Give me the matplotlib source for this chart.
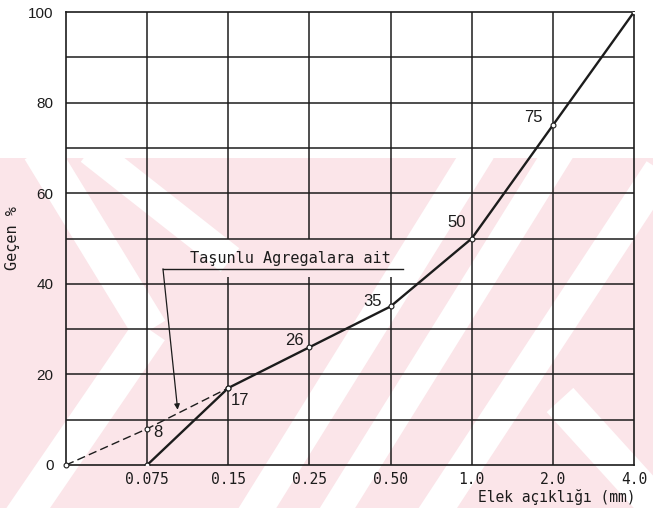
import numpy as np
import matplotlib.pyplot as plt
from matplotlib.patches import Polygon, Rectangle

# sieve sizes (equally spaced on the chart) and passing percentages
sieve_labels = ['', '0.075', '0.15', '0.25', '0.50', '1.0', '2.0', '4.0']
sand_pos = [1, 2, 3, 4, 5, 6, 7]
sand_passing = [0, 17, 26, 35, 50, 75, 100]
stone_pos = [0, 1, 2]
stone_passing = [0, 8, 17]
point_labels = ['8', '17', '26', '35', '50', '75']
label_xy = [(1.13, 7.1), (2.14, 14.3), (2.81, 27.4), (3.78, 36.2), (4.81, 53.6), (5.76, 76.8)]

W, H = 653, 508
ink = '#1c1c1c'
mono = 'DejaVu Sans Mono'
sans = 'Liberation Sans'

fig = plt.figure(figsize=(W / 100, H / 100), dpi=100)


def px(x, y):
    return (x / W, 1 - y / H)


def stripe(p1, p2, w, color='white'):
    p1 = np.array(p1, float)
    p2 = np.array(p2, float)
    d = p2 - p1
    n = np.array([-d[1], d[0]]) / np.hypot(*d) * w / 2
    pts = [p1 + n, p2 + n, p2 - n, p1 - n]
    fig.patches.append(Polygon([px(*p) for p in pts], closed=True, transform=fig.transFigure,
                               facecolor=color, edgecolor='none', zorder=-2))


# faint pink watermark from the scan
fig.patches.append(Rectangle(px(0, H), 1, (H - 158) / H, transform=fig.transFigure,
                             facecolor='#fbe5e9', edgecolor='none', zorder=-3))
stripe((40, 150), (150, 330), 36)
stripe((90, 150), (230, 260), 30)
stripe((150, 330), (20, 520), 36)
stripe((660, 170), (430, 520), 32)
stripe((560, 150), (330, 520), 30)
stripe((480, 150), (250, 520), 32)
stripe((560, 400), (660, 510), 36)

ax = fig.add_axes([66 / W, 43 / H, 568 / W, 453 / H])
ax.set_facecolor('none')
ax.set_xlim(0, 7)
ax.set_ylim(0, 100)

# grid drawn by hand: three verticals are broken where the note sits
ax.hlines(range(10, 100, 10), 0, 7, color=ink, lw=1.1, zorder=1)
ax.vlines([1, 5, 6], 0, 100, color=ink, lw=1.1, zorder=1)
ax.vlines([2, 3, 4], 0, 41.5, color=ink, lw=1.1, zorder=1)
ax.vlines([2, 3, 4], 50, 100, color=ink, lw=1.1, zorder=1)
for s in ax.spines.values():
    s.set_color(ink)
    s.set_linewidth(1.2)

ax.plot(sand_pos, sand_passing, color=ink, lw=1.7, marker='o', ms=3.5,
        mfc='white', mec=ink, mew=0.8, zorder=3)
ax.plot(stone_pos, stone_passing, color=ink, lw=1.0, ls=(0, (6, 3)), marker='o', ms=3.5,
        mfc='white', mec=ink, mew=0.8, zorder=3, clip_on=False)

for t, (x, y) in zip(point_labels, label_xy):
    ax.text(x, y, t, fontsize=12, family=sans, color=ink, ha='center', va='center')

ax.set_xticks(range(8))
ax.set_xticklabels(sieve_labels, family=mono, fontsize=10.5, color=ink)
ax.set_yticks(range(0, 101, 20))
ax.set_yticklabels([str(v) for v in range(0, 101, 20)], family=sans, fontsize=11, color=ink)
ax.tick_params(length=0)
ax.tick_params(axis='x', pad=5)
ax.tick_params(axis='y', pad=9)

# note with leader arrow
ax.text(1.53, 44.6, 'Taşunlu Agregalara ait', family=mono, fontsize=11, color=ink,
        ha='left', va='baseline')
ax.plot([1.195, 4.15], [43.3, 43.3], color=ink, lw=1.0)
ax.annotate('', xy=(1.376, 12.2), xytext=(1.195, 43.3),
            arrowprops=dict(arrowstyle='-|>', lw=0.9, color=ink, mutation_scale=8,
                            shrinkA=0, shrinkB=0))

fig.text(636 / W, 1 - 497 / H, 'Elek açıklığı (mm)', family=mono, fontsize=10.5, color=ink,
         ha='right', va='center')
fig.text(13 / W, 1 - 238 / H, 'Geçen %', family=mono, fontsize=11, color=ink,
         rotation=90, ha='center', va='center')

fig.savefig('out.png', dpi=100)
